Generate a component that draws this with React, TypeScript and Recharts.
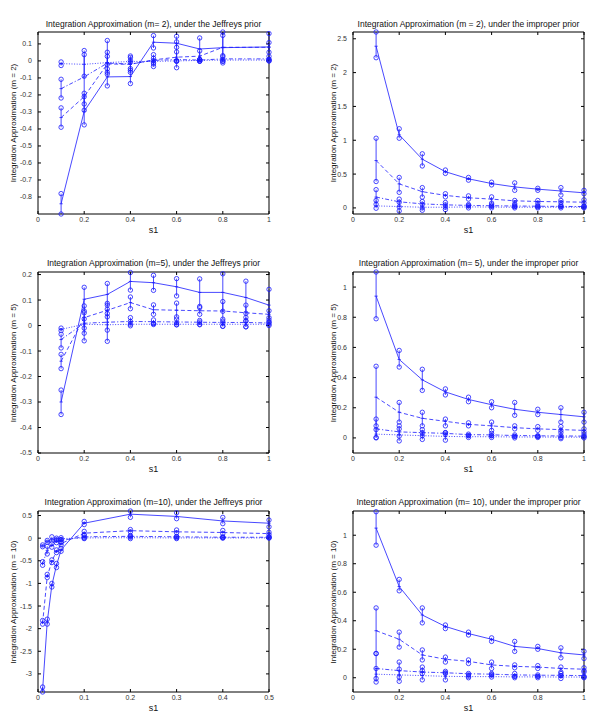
import React from 'react';
import { ComposedChart, Line, XAxis, YAxis, ErrorBar } from 'recharts';

// ---------- Panel 1: m=2, Jeffreys prior ----------
const p1X = [0.1, 0.2, 0.3, 0.4, 0.5, 0.6, 0.7, 0.8, 1.0];
const p1SolidM = [-0.84, -0.296, -0.094, -0.092, 0.11, 0.104, 0.07, 0.078, 0.082];
const p1SolidLo = [-0.9, -0.376, -0.147, -0.133, 0.076, 0.08, 0.008, -0.012, 0.006];
const p1SolidHi = [-0.78, -0.21, -0.047, -0.045, 0.149, 0.145, 0.135, 0.17, 0.161];
const p1DashM = [-0.333, -0.21, -0.018, -0.02, 0.006, 0.022, 0.028, 0.08, 0.08];
const p1DashLo = [-0.39, -0.253, -0.078, -0.067, -0.033, -0.04, -0.002, 0.031, 0.051];
const p1DashHi = [-0.276, -0.19, 0.051, 0.029, 0.037, 0.112, 0.059, 0.15, 0.108];
const p1DotDashM = [-0.163, -0.094, -0.013, -0.018, 0.003, 0.008, 0.005, 0.012, 0.012];
const p1DotDashLo = [-0.218, -0.29, -0.067, -0.055, -0.018, -0.002, 0.0, -0.002, 0.0];
const p1DotDashHi = [-0.108, 0.061, 0.027, 0.02, 0.016, 0.053, 0.008, 0.024, 0.027];
const p1DotM = [-0.016, -0.02, -0.01, -0.003, -0.003, 0.0, 0.003, 0.005, 0.005];
const p1DotLo = [-0.027, -0.09, -0.02, -0.008, -0.008, -0.002, -0.002, -0.002, 0.0];
const p1DotHi = [-0.006, 0.037, 0.12, 0.002, 0.002, 0.002, 0.008, 0.01, 0.01];

// ---------- Panel 2: m=2, improper prior ----------
const p2X = [0.1, 0.2, 0.3, 0.4, 0.5, 0.6, 0.7, 0.8, 0.9, 1.0];
const p2SolidM = [2.39, 1.08, 0.72, 0.535, 0.43, 0.36, 0.31, 0.277, 0.25, 0.223];
const p2SolidLo = [2.22, 1.03, 0.62, 0.51, 0.41, 0.34, 0.26, 0.26, 0.19, 0.21];
const p2SolidHi = [2.6, 1.17, 0.8, 0.56, 0.45, 0.38, 0.37, 0.29, 0.3, 0.26];
const p2DashM = [0.7, 0.355, 0.24, 0.185, 0.15, 0.13, 0.105, 0.095, 0.09, 0.085];
const p2DashLo = [0.39, 0.23, 0.16, 0.163, 0.13, 0.07, 0.06, 0.07, 0.08, 0.075];
const p2DashHi = [1.03, 0.45, 0.3, 0.21, 0.178, 0.163, 0.11, 0.11, 0.11, 0.12];
const p2DotDashM = [0.16, 0.09, 0.06, 0.045, 0.037, 0.032, 0.028, 0.025, 0.022, 0.02];
const p2DotDashLo = [0.054, 0.015, 0.0, 0.01, 0.03, 0.025, 0.02, 0.015, 0.02, 0.015];
const p2DotDashHi = [0.27, 0.13, 0.094, 0.08, 0.05, 0.045, 0.04, 0.035, 0.04, 0.03];
const p2DotM = [0.03, 0.02, 0.01, 0.01, 0.015, 0.012, 0.01, 0.01, 0.01, 0.01];
const p2DotLo = [-0.005, -0.045, -0.035, -0.025, 0, 0, 0, 0, 0, 0];
const p2DotHi = [0.11, 0.084, 0.054, 0.045, 0.03, 0.025, 0.02, 0.02, 0.02, 0.02];

// ---------- Panel 3: m=5, Jeffreys prior ----------
const p3X = [0.1, 0.2, 0.3, 0.4, 0.5, 0.6, 0.7, 0.8, 0.9, 1.0];
const p3SolidM = [-0.3, 0.103, 0.122, 0.173, 0.168, 0.152, 0.13, 0.13, 0.11, 0.08];
const p3SolidLo = [-0.349, 0.057, 0.08, 0.139, 0.138, 0.116, 0.075, 0.056, 0.048, 0.022];
const p3SolidHi = [-0.253, 0.15, 0.165, 0.208, 0.197, 0.184, 0.183, 0.203, 0.174, 0.142];
const p3DashM = [-0.14, 0.031, 0.06, 0.09, 0.062, 0.06, 0.058, 0.057, 0.05, 0.044];
const p3DashLo = [-0.169, -0.03, 0.034, 0.066, 0.044, 0.034, 0.044, 0.025, 0.018, 0.031];
const p3DashHi = [-0.113, 0.077, 0.087, 0.112, 0.081, 0.088, 0.07, 0.094, 0.08, 0.058];
const p3DotDashM = [-0.055, 0.009, 0.013, 0.016, 0.015, 0.014, 0.013, 0.012, 0.012, 0.01];
const p3DotDashLo = [-0.088, -0.06, -0.018, 0.005, 0.008, 0.003, 0.005, -0.003, -0.005, 0.005];
const p3DotDashHi = [-0.034, 0.05, 0.047, 0.031, 0.022, 0.025, 0.02, 0.017, 0.032, 0.013];
const p3DotM = [-0.015, 0.005, 0.003, 0.005, 0.005, 0.005, 0.005, 0.005, 0.005, 0.005];
const p3DotLo = [-0.02, -0.01, -0.062, -0.001, 0.004, 0.003, 0.003, -0.003, -0.005, 0.0];
const p3DotHi = [-0.01, 0.026, 0.064, 0.016, 0.008, 0.01, 0.014, 0.01, 0.018, 0.013];

// ---------- Panel 4: m=5, improper prior ----------
const p4X = [0.1, 0.2, 0.3, 0.4, 0.5, 0.6, 0.7, 0.8, 0.9, 1.0];
const p4SolidM = [0.94, 0.52, 0.385, 0.305, 0.255, 0.22, 0.19, 0.17, 0.155, 0.14];
const p4SolidLo = [0.79, 0.47, 0.315, 0.285, 0.24, 0.2, 0.15, 0.155, 0.105, 0.105];
const p4SolidHi = [1.1, 0.58, 0.455, 0.325, 0.27, 0.24, 0.235, 0.19, 0.2, 0.17];
const p4DashM = [0.27, 0.17, 0.13, 0.11, 0.09, 0.08, 0.068, 0.06, 0.055, 0.05];
const p4DashLo = [0.08, 0.105, 0.08, 0.08, 0.08, 0.05, 0.06, 0.05, 0.035, 0.04];
const p4DashHi = [0.475, 0.235, 0.17, 0.125, 0.1, 0.105, 0.08, 0.075, 0.075, 0.06];
const p4DotDashM = [0.06, 0.04, 0.035, 0.03, 0.022, 0.02, 0.016, 0.014, 0.013, 0.012];
const p4DotDashLo = [0.003, 0.012, 0.015, 0.025, 0.015, 0.015, 0.01, 0.01, 0.003, 0.01];
const p4DotDashHi = [0.125, 0.08, 0.055, 0.035, 0.025, 0.03, 0.02, 0.015, 0.05, 0.025];
const p4DotM = [0.025, 0.02, 0.015, 0.01, 0.008, 0.008, 0.006, 0.006, 0.005, 0.005];
const p4DotLo = [0, -0.02, -0.01, -0.015, 0.003, 0.003, 0, 0.003, -0.005, 0];
const p4DotHi = [0.055, 0.06, 0.035, 0.035, 0.015, 0.015, 0.01, 0.01, 0.015, 0.01];

// ---------- Panel 5: m=10, Jeffreys prior ----------
const p5X = [0.01, 0.02, 0.03, 0.04, 0.05, 0.1, 0.2, 0.3, 0.4, 0.5];
const p5SolidM = [-3.35, -1.85, -1.04, -0.6, -0.26, 0.33, 0.53, 0.48, 0.38, 0.33];
const p5SolidLo = [-3.4, -1.9, -1.08, -0.65, -0.29, 0.3, 0.46, 0.43, 0.32, 0.25];
const p5SolidHi = [-3.29, -1.79, -1.0, -0.56, -0.23, 0.37, 0.6, 0.56, 0.46, 0.4];
const p5DashM = [-1.87, -0.85, -0.51, -0.29, -0.12, 0.11, 0.165, 0.14, 0.125, 0.1];
const p5DashLo = [-1.9, -0.87, -0.54, -0.32, -0.15, 0.08, 0.14, 0.12, 0.1, 0.08];
const p5DashHi = [-1.82, -0.8, -0.48, -0.26, -0.1, 0.15, 0.19, 0.18, 0.17, 0.13];
const p5DotDashM = [-0.56, -0.27, -0.16, -0.07, -0.05, 0.03, 0.04, 0.03, 0.02, 0.02];
const p5DotDashLo = [-0.6, -0.35, -0.2, -0.1, -0.08, 0.0, 0.02, 0.01, 0.01, 0.01];
const p5DotDashHi = [-0.52, -0.18, -0.12, -0.04, -0.03, 0.06, 0.06, 0.04, 0.03, 0.03];
const p5DotM = [-0.17, -0.07, -0.04, -0.02, -0.01, 0.005, 0.01, 0.005, 0.005, 0.005];
const p5DotLo = [-0.19, -0.09, -0.06, -0.04, -0.03, -0.01, -0.01, -0.01, 0.0, 0.0];
const p5DotHi = [-0.15, -0.05, 0.03, 0.0, 0.01, 0.02, 0.04, 0.03, 0.02, 0.02];

// ---------- Panel 6: m=10, improper prior ----------
const p6X = [0.1, 0.2, 0.3, 0.4, 0.5, 0.6, 0.7, 0.8, 0.9, 1.0];
const p6SolidM = [1.05, 0.64, 0.44, 0.36, 0.31, 0.27, 0.22, 0.205, 0.175, 0.16];
const p6SolidLo = [0.93, 0.61, 0.385, 0.345, 0.3, 0.255, 0.185, 0.2, 0.14, 0.135];
const p6SolidHi = [1.165, 0.69, 0.49, 0.37, 0.32, 0.28, 0.255, 0.22, 0.21, 0.185];
const p6DashM = [0.33, 0.27, 0.16, 0.13, 0.115, 0.09, 0.08, 0.075, 0.065, 0.06];
const p6DashLo = [0.17, 0.215, 0.125, 0.11, 0.1, 0.065, 0.07, 0.065, 0.04, 0.04];
const p6DashHi = [0.49, 0.32, 0.195, 0.145, 0.125, 0.11, 0.09, 0.085, 0.075, 0.07];
const p6DotDashM = [0.065, 0.05, 0.04, 0.035, 0.028, 0.025, 0.02, 0.018, 0.017, 0.015];
const p6DotDashLo = [-0.005, 0.005, 0.03, 0.03, 0.02, 0.02, 0.01, 0.01, 0.015, 0.01];
const p6DotDashHi = [0.17, 0.11, 0.075, 0.045, 0.03, 0.03, 0.03, 0.02, 0.03, 0.05];
const p6DotM = [0.025, 0.02, 0.015, 0.01, 0.008, 0.008, 0.006, 0.006, 0.005, 0.005];
const p6DotLo = [-0.03, -0.025, -0.015, -0.015, 0, 0.005, 0, 0, -0.005, 0];
const p6DotHi = [0.065, 0.06, 0.05, 0.035, 0.01, 0.02, 0.01, 0.01, 0.015, 0.006];

// ---------- Axis ticks ----------
const xTicksUnit = [0, 0.2, 0.4, 0.6, 0.8, 1];
const xTicksHalf = [0, 0.1, 0.2, 0.3, 0.4, 0.5];
const p1YTicks = [-0.8, -0.7, -0.6, -0.5, -0.4, -0.3, -0.2, -0.1, 0, 0.1];
const p2YTicks = [0, 0.5, 1, 1.5, 2, 2.5];
const p3YTicks = [-0.5, -0.4, -0.3, -0.2, -0.1, 0, 0.1, 0.2];
const p4YTicks = [0, 0.2, 0.4, 0.6, 0.8, 1];
const p5YTicks = [-3, -2.5, -2, -1.5, -1, -0.5, 0, 0.5];
const p6YTicks = [0, 0.2, 0.4, 0.6, 0.8, 1];

const BLUE = '#1a1aff';
const FONT = '"Liberation Sans", Arial, Helvetica, sans-serif';
const DASHES = [undefined, '4 2.5', '4 2 1.2 2', '1 1.6'];

type S = { m: number[]; lo: number[]; hi: number[] };

function buildRows(xs: number[], series: S[]) {
  return xs.map((x, i) => {
    const r: any = { x };
    series.forEach((s, k) => {
      r['m' + k] = s.m[i];
      r['lo' + k] = s.lo[i];
      r['hi' + k] = s.hi[i];
      r['e' + k] = [s.m[i] - s.lo[i], s.hi[i] - s.m[i]];
    });
    return r;
  });
}

const CircleDot = (props: any) => {
  const { cx, cy } = props;
  if (cx == null || cy == null || isNaN(cy)) return <g />;
  return <circle cx={cx} cy={cy} r={2.2} fill="none" stroke={BLUE} strokeWidth={0.8} />;
};

const MeanDot = (props: any) => {
  const { cx, cy } = props;
  if (cx == null || cy == null || isNaN(cy)) return <g />;
  return <path d={`M${cx - 1.6},${cy}H${cx + 1.6}`} stroke={BLUE} strokeWidth={0.8} />;
};

type Box = { x: number; y: number; w: number; h: number };

function Panel(props: {
  box: Box;
  title: string;
  ylabel: string;
  ylabelX: number;
  titleY: number;
  xs: number[];
  series: S[];
  xDomain: [number, number];
  xTicks: number[];
  yDomain: [number, number];
  yTicks: number[];
}) {
  const { box, title, ylabel, ylabelX, titleY, xs, series, xDomain, xTicks, yDomain, yTicks } = props;
  const rows = buildRows(xs, series);
  const L = 40;
  const T = 10;
  const textStyle: React.CSSProperties = {
    position: 'absolute',
    fontFamily: FONT,
    color: '#111',
    whiteSpace: 'nowrap',
    lineHeight: 1,
  };
  return (
    <>
      <div style={{ position: 'absolute', left: box.x - L, top: box.y - T }}>
        <ComposedChart
          width={box.w + L + 10}
          height={box.h + T + 20}
          data={rows}
          margin={{ top: T - 1, right: 9, bottom: 0, left: 0 }}
        >
          <XAxis
            dataKey="x"
            type="number"
            domain={xDomain}
            ticks={xTicks}
            interval={0}
            height={20}
            tickSize={-3}
            tickMargin={6}
            stroke="#000"
            tick={{ fill: '#333', fontSize: 7, fontFamily: FONT }}
          />
          <XAxis
            xAxisId="top"
            orientation="top"
            dataKey="x"
            type="number"
            domain={xDomain}
            ticks={xTicks}
            interval={0}
            height={1}
            tickSize={-3}
            allowDataOverflow
            stroke="#000"
            tickFormatter={() => ''}
          />
          <YAxis
            type="number"
            domain={yDomain}
            ticks={yTicks}
            interval={0}
            width={L}
            tickSize={-3}
            tickMargin={9}
            stroke="#000"
            tick={{ fill: '#333', fontSize: 7, fontFamily: FONT }}
          />
          <YAxis
            yAxisId="right"
            orientation="right"
            type="number"
            domain={yDomain}
            ticks={yTicks}
            interval={0}
            width={1}
            tickSize={-3}
            allowDataOverflow
            stroke="#000"
            tickFormatter={() => ''}
          />
          <Line
            xAxisId="top"
            yAxisId="right"
            dataKey="m0"
            stroke="none"
            dot={false}
            activeDot={false}
            isAnimationActive={false}
            legendType="none"
          />
          {series.map((_, k) => (
            <Line
              key={'m' + k}
              dataKey={'m' + k}
              stroke={BLUE}
              strokeWidth={0.8}
              strokeDasharray={DASHES[k]}
              dot={MeanDot}
              activeDot={false}
              isAnimationActive={false}
              legendType="none"
            >
              <ErrorBar dataKey={'e' + k} width={0} stroke={BLUE} strokeWidth={0.8} direction="y" />
            </Line>
          ))}
          {series.map((_, k) => (
            <Line
              key={'lo' + k}
              dataKey={'lo' + k}
              stroke="none"
              dot={CircleDot}
              activeDot={false}
              isAnimationActive={false}
              legendType="none"
            />
          ))}
          {series.map((_, k) => (
            <Line
              key={'hi' + k}
              dataKey={'hi' + k}
              stroke="none"
              dot={CircleDot}
              activeDot={false}
              isAnimationActive={false}
              legendType="none"
            />
          ))}
        </ComposedChart>
      </div>
      <div
        style={{
          ...textStyle,
          left: box.x + box.w / 2,
          top: titleY,
          fontSize: 8.5,
          transform: 'translate(-50%, -50%)',
        }}
      >
        {title}
      </div>
      <div
        style={{
          ...textStyle,
          left: ylabelX,
          top: box.y + box.h / 2,
          fontSize: 8,
          transform: 'translate(-50%, -50%) rotate(-90deg)',
        }}
      >
        {ylabel}
      </div>
      <div
        style={{
          ...textStyle,
          left: box.x + box.w / 2,
          top: box.y + box.h + 16,
          fontSize: 9,
          transform: 'translate(-50%, -50%)',
        }}
      >
        s1
      </div>
    </>
  );
}

export default function App() {
  const colL = 38;
  const colR = 353;
  const W = 231;
  return (
    <div style={{ position: 'absolute', left: 0, top: 0, width: 589, height: 713, background: '#fff' }}>
      <Panel
        box={{ x: colL, y: 32, w: W, h: 182 }}
        title="Integration Approximation (m= 2), under the Jeffreys prior"
        ylabel="Integration Approximation (m = 2)"
        ylabelX={14}
        titleY={24}
        xs={p1X}
        series={[
          { m: p1SolidM, lo: p1SolidLo, hi: p1SolidHi },
          { m: p1DashM, lo: p1DashLo, hi: p1DashHi },
          { m: p1DotDashM, lo: p1DotDashLo, hi: p1DotDashHi },
          { m: p1DotM, lo: p1DotLo, hi: p1DotHi },
        ]}
        xDomain={[0, 1]}
        xTicks={xTicksUnit}
        yDomain={[-0.9, 0.17]}
        yTicks={p1YTicks}
      />
      <Panel
        box={{ x: colR, y: 32, w: W, h: 182 }}
        title="Integration Approximation (m = 2), under the improper prior"
        ylabel="Integration Approximation (m = 2)"
        ylabelX={334}
        titleY={24}
        xs={p2X}
        series={[
          { m: p2SolidM, lo: p2SolidLo, hi: p2SolidHi },
          { m: p2DashM, lo: p2DashLo, hi: p2DashHi },
          { m: p2DotDashM, lo: p2DotDashLo, hi: p2DotDashHi },
          { m: p2DotM, lo: p2DotLo, hi: p2DotHi },
        ]}
        xDomain={[0, 1]}
        xTicks={xTicksUnit}
        yDomain={[-0.09, 2.6]}
        yTicks={p2YTicks}
      />
      <Panel
        box={{ x: colL, y: 272, w: W, h: 181 }}
        title="Integration Approximation (m=5), under the Jeffreys prior"
        ylabel="Integration Approximation (m = 5)"
        ylabelX={14}
        titleY={263}
        xs={p3X}
        series={[
          { m: p3SolidM, lo: p3SolidLo, hi: p3SolidHi },
          { m: p3DashM, lo: p3DashLo, hi: p3DashHi },
          { m: p3DotDashM, lo: p3DotDashLo, hi: p3DotDashHi },
          { m: p3DotM, lo: p3DotLo, hi: p3DotHi },
        ]}
        xDomain={[0, 1]}
        xTicks={xTicksUnit}
        yDomain={[-0.5, 0.21]}
        yTicks={p3YTicks}
      />
      <Panel
        box={{ x: colR, y: 272, w: W, h: 181 }}
        title="Integration Approximation (m= 5), under the improper prior"
        ylabel="Integration Approximation (m = 5)"
        ylabelX={334}
        titleY={263}
        xs={p4X}
        series={[
          { m: p4SolidM, lo: p4SolidLo, hi: p4SolidHi },
          { m: p4DashM, lo: p4DashLo, hi: p4DashHi },
          { m: p4DotDashM, lo: p4DotDashLo, hi: p4DotDashHi },
          { m: p4DotM, lo: p4DotLo, hi: p4DotHi },
        ]}
        xDomain={[0, 1]}
        xTicks={xTicksUnit}
        yDomain={[-0.1, 1.1]}
        yTicks={p4YTicks}
      />
      <Panel
        box={{ x: colL, y: 511, w: W, h: 181 }}
        title="Integration Approximation (m=10), under the Jeffreys prior"
        ylabel="Integration Approximation (m = 10)"
        ylabelX={14}
        titleY={502}
        xs={p5X}
        series={[
          { m: p5SolidM, lo: p5SolidLo, hi: p5SolidHi },
          { m: p5DashM, lo: p5DashLo, hi: p5DashHi },
          { m: p5DotDashM, lo: p5DotDashLo, hi: p5DotDashHi },
          { m: p5DotM, lo: p5DotLo, hi: p5DotHi },
        ]}
        xDomain={[0, 0.5]}
        xTicks={xTicksHalf}
        yDomain={[-3.4, 0.6]}
        yTicks={p5YTicks}
      />
      <Panel
        box={{ x: colR, y: 511, w: W, h: 181 }}
        title="Integration Approximation (m= 10), under the improper prior"
        ylabel="Integration Approximation (m = 10)"
        ylabelX={334}
        titleY={502}
        xs={p6X}
        series={[
          { m: p6SolidM, lo: p6SolidLo, hi: p6SolidHi },
          { m: p6DashM, lo: p6DashLo, hi: p6DashHi },
          { m: p6DotDashM, lo: p6DotDashLo, hi: p6DotDashHi },
          { m: p6DotM, lo: p6DotLo, hi: p6DotHi },
        ]}
        xDomain={[0, 1]}
        xTicks={xTicksUnit}
        yDomain={[-0.1, 1.17]}
        yTicks={p6YTicks}
      />
    </div>
  );
}
